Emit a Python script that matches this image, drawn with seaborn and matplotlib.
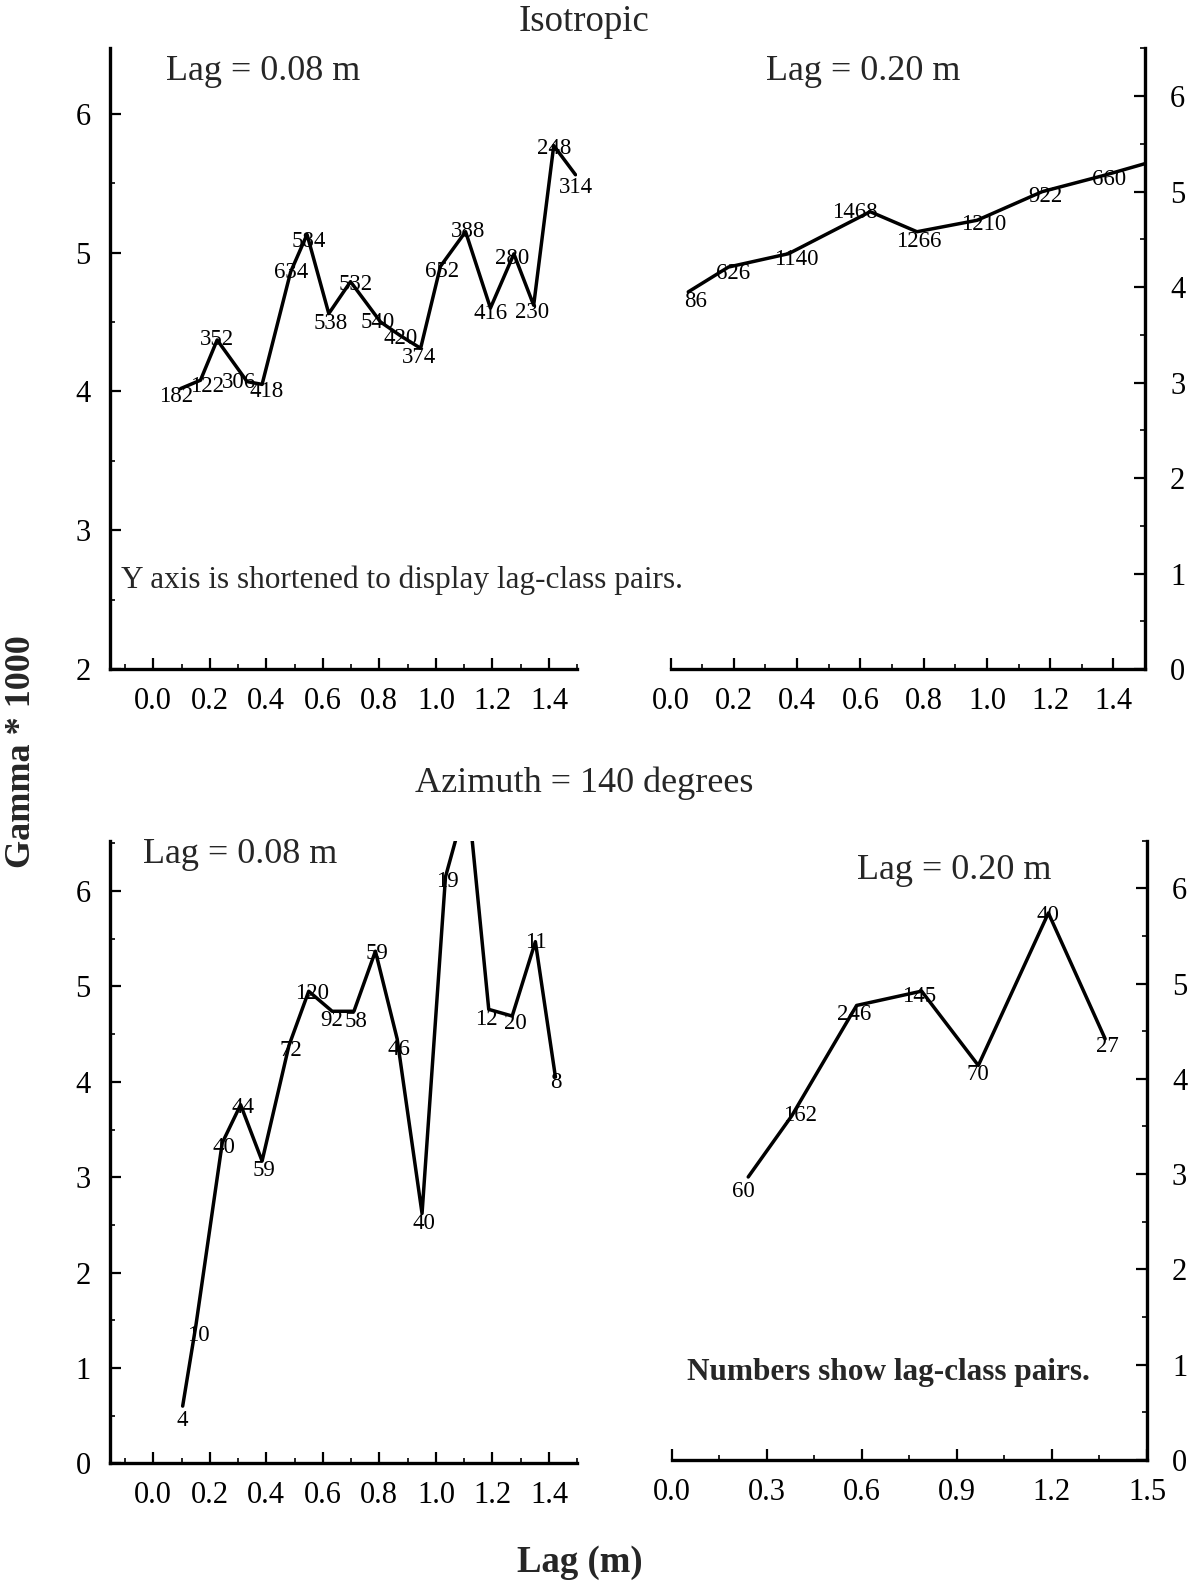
import matplotlib
matplotlib.use("Agg")
import matplotlib.pyplot as plt
from matplotlib.ticker import MultipleLocator, FormatStrFormatter
import seaborn as sns
import pandas as pd

# ---- Isotropic, lag = 0.08 m ----
tl_lag = [0.097, 0.167, 0.226, 0.332, 0.385, 0.486, 0.544, 0.621, 0.698, 0.804,
          0.875, 0.946, 1.016, 1.105, 1.193, 1.276, 1.346, 1.417, 1.494]
tl_gamma = [4.02, 4.08, 4.37, 4.07, 4.05, 4.86, 5.13, 4.56, 4.79, 4.50,
            4.40, 4.31, 4.90, 5.15, 4.60, 4.99, 4.62, 5.77, 5.56]
tl_pairs = [182, 122, 352, 306, 418, 634, 584, 538, 532, 540,
            420, 374, 652, 388, 416, 280, 230, 248, 314]

# ---- Isotropic, lag = 0.20 m (last class runs past the axis) ----
tr_lag = [0.056, 0.183, 0.373, 0.631, 0.779, 0.969, 1.175, 1.370, 1.570]
tr_gamma = [3.95, 4.21, 4.35, 4.79, 4.58, 4.70, 5.00, 5.17, 5.36]
tr_pairs = [86, 626, 1140, 1468, 1266, 1210, 922, 660, None]

# ---- Azimuth 140, lag = 0.08 m (one class above the axis top) ----
bl_lag = [0.104, 0.151, 0.244, 0.309, 0.385, 0.480, 0.550, 0.633, 0.710, 0.786,
          0.863, 0.951, 1.034, 1.113, 1.187, 1.270, 1.352, 1.423]
bl_gamma = [0.60, 1.45, 3.36, 3.76, 3.17, 4.38, 4.95, 4.74, 4.74, 5.37,
            4.45, 2.62, 6.15, 7.00, 4.76, 4.69, 5.47, 4.05]
bl_pairs = [4, 10, 40, 44, 59, 72, 120, 92, 58, 59,
            46, 40, 19, None, 12, 20, 11, 8]

# ---- Azimuth 140, lag = 0.20 m ----
br_lag = [0.242, 0.379, 0.584, 0.789, 0.968, 1.189, 1.368]
br_gamma = [2.97, 3.61, 4.77, 4.92, 4.14, 5.74, 4.42]
br_pairs = [60, 162, 246, 145, 70, 40, 27]

# label nudges (pixels, x right / y up) so numbers sit beside the line
tl_nudge = [(-5, -5), (7, -4), (0, 3), (-8, 2), (5, -5), (0, 2), (2, -5), (2, -7), (5, 0), (-3, 2),
            (0, 0), (-2, -7), (2, -3), (2, 3), (0, -3), (-2, -2), (-2, -5), (0, 0), (0, -10)]
tr_nudge = [(7, -7), (5, -4), (8, -3), (-15, 2), (2, -7), (7, -2), (3, -2), (5, -2), (0, 0)]
bl_nudge = [(0, -12), (2, -8), (2, -2), (2, 0), (2, -7), (2, -2), (3, 0), (0, -7), (2, -8), (2, 0),
            (2, -8), (2, -8), (2, -2), (0, 0), (-2, -8), (3, -5), (0, 2), (0, -3)]
br_nudge = [(-5, -12), (8, 3), (-2, -7), (-2, -3), (0, -7), (0, 0), (2, -5)]

sns.set_theme(style="ticks")
SERIF = ["Liberation Serif", "DejaVu Serif"]
plt.rcParams["font.family"] = SERIF
plt.rcParams["axes.linewidth"] = 2.4

fig = plt.figure(figsize=(12, 15.83), dpi=100)

panels = [
    # lag, gamma, pairs, nudges, rect, xlim, ylim, x major, x minor, side
    (tl_lag, tl_gamma, tl_pairs, tl_nudge, [0.0917, 0.5774, 0.3893, 0.3920], (-0.153, 1.5), (2, 6.47), 0.2, 0.1, "left"),
    (tr_lag, tr_gamma, tr_pairs, tr_nudge, [0.5588, 0.5774, 0.3954, 0.3920], (0.0, 1.5), (0, 6.5), 0.2, 0.1, "right"),
    (bl_lag, bl_gamma, bl_pairs, bl_nudge, [0.0917, 0.0756, 0.3893, 0.3934], (-0.153, 1.5), (0, 6.53), 0.2, 0.1, "left"),
    (br_lag, br_gamma, br_pairs, br_nudge, [0.5596, 0.0777, 0.3962, 0.3913], (0.0, 1.5), (0, 6.5), 0.3, 0.15, "right"),
]

for lag, gamma, pairs, nudges, rect, xlim, ylim, xmaj, xmin, side in panels:
    ax = fig.add_axes(rect)
    df = pd.DataFrame({"lag": lag, "gamma": gamma})
    sns.lineplot(data=df, x="lag", y="gamma", ax=ax, color="black",
                 linewidth=2.5, estimator=None, sort=False)
    for x, y, n, (dx, dy) in zip(lag, gamma, pairs, nudges):
        if n is None:
            continue
        ax.annotate(str(n), (x, y), xytext=(dx, dy), textcoords="offset pixels",
                    ha="center", va="center_baseline", fontsize=16.5, color="black",
                    family=SERIF)
    ax.set_xlim(*xlim)
    ax.set_ylim(*ylim)
    ax.set_xlabel("")
    ax.set_ylabel("")
    ax.xaxis.set_major_locator(MultipleLocator(xmaj))
    ax.xaxis.set_minor_locator(MultipleLocator(xmin))
    ax.yaxis.set_major_locator(MultipleLocator(1))
    ax.yaxis.set_minor_locator(MultipleLocator(0.5))
    ax.set_xticks([t for t in ax.get_xticks() if -1e-9 <= t <= 1.5 + 1e-9])
    ax.xaxis.set_major_formatter(FormatStrFormatter("%.1f"))
    ax.set_facecolor("white")
    ax.spines["top"].set_visible(False)
    if side == "left":
        ax.spines["right"].set_visible(False)
        ax.yaxis.set_ticks_position("left")
        ypad = 14
    else:
        ax.spines["left"].set_visible(False)
        ax.yaxis.set_ticks_position("right")
        ypad = 18
    ax.tick_params(axis="both", which="major", direction="in", length=8, width=1.6,
                   labelsize=22, color="black", labelcolor="black")
    ax.tick_params(axis="both", which="minor", direction="in", length=3.5, width=1.2,
                   color="black")
    ax.tick_params(axis="x", which="major", pad=13)
    ax.tick_params(axis="y", which="major", pad=ypad)
    for s in ax.spines.values():
        s.set_color("black")
        s.set_linewidth(2.4)
    ax.set_xlim(*xlim)
    for lbl in ax.get_xticklabels() + ax.get_yticklabels():
        lbl.set_family(SERIF)

# panel captions
fig.text(0.487, 0.986, "Isotropic", ha="center", va="center", fontsize=26.5)
fig.text(0.487, 0.505, "Azimuth = 140 degrees", ha="center", va="center", fontsize=26)
fig.text(0.219, 0.955, "Lag = 0.08 m", ha="center", va="center", fontsize=26)
fig.text(0.719, 0.955, "Lag = 0.20 m", ha="center", va="center", fontsize=26)
fig.text(0.200, 0.460, "Lag = 0.08 m", ha="center", va="center", fontsize=26)
fig.text(0.795, 0.450, "Lag = 0.20 m", ha="center", va="center", fontsize=26)
fig.text(0.101, 0.6336, "Y axis is shortened to display lag-class pairs.",
         ha="left", va="center", fontsize=22.5)
fig.text(0.740, 0.1327, "Numbers show lag-class pairs.", ha="center", va="center",
         fontsize=22.5, fontweight="bold")

# shared axis titles
fig.text(0.018, 0.525, "Gamma * 1000", ha="center", va="center", rotation=90,
         fontsize=26, fontweight="bold")
fig.text(0.483, 0.013, "Lag (m)", ha="center", va="center", fontsize=26.5,
         fontweight="bold")

fig.savefig("out.png", dpi=100, facecolor="white")
